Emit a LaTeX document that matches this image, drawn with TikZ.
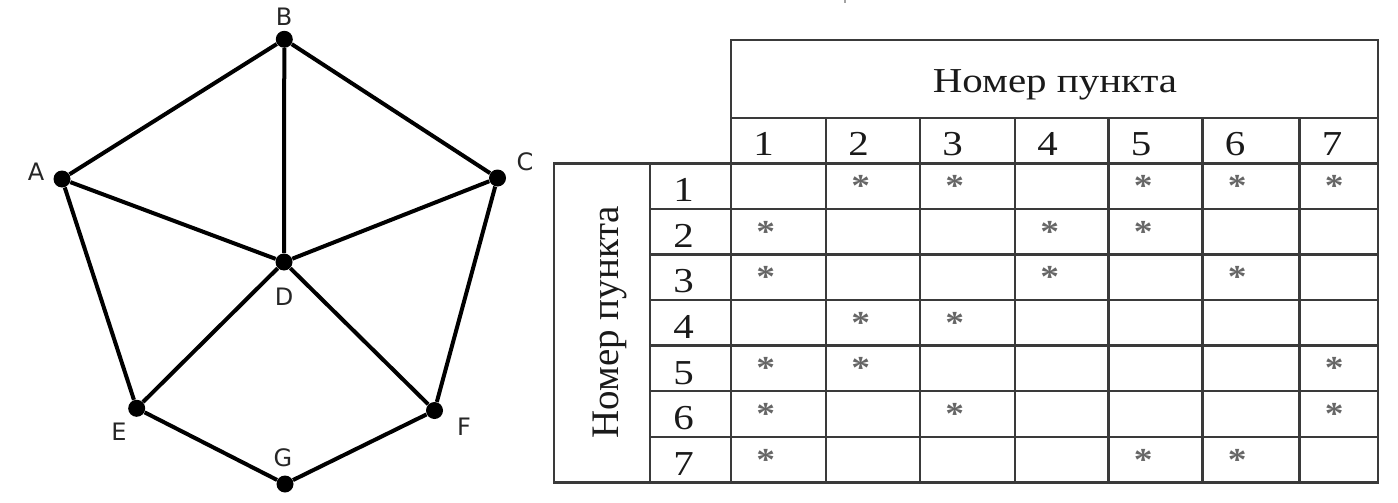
\documentclass[tikz,border=0pt]{standalone}
\usepackage{fontspec}
\setmainfont{Liberation Serif}
\newfontfamily\tabfont{Liberation Serif}[FakeStretch=1.17]
\newfontfamily\lblfont{DejaVu Sans}
\definecolor{gridc}{HTML}{3A3A3A}
\definecolor{textc}{HTML}{1A1A1A}
\definecolor{starc}{HTML}{666666}
\begin{document}
\begin{tikzpicture}[x=0.5pt,y=-0.5pt,
  vtx/.style={circle,fill=black,inner sep=0pt,minimum size=8.5pt},
  edge/.style={line width=2pt,black},
  lbl/.style={font=\lblfont\fontsize{12}{14}\selectfont,text=black!85,inner sep=0pt},
  gridline/.style={line width=1.2pt,draw=gridc,line cap=rect},
  cell/.style={font=\tabfont\fontsize{17.5}{20}\selectfont,anchor=base west,inner sep=0pt,text=textc},
  star/.style={font=\tabfont\bfseries\fontsize{16}{18}\selectfont,anchor=base west,inner sep=0pt,text=starc}]
\useasboundingbox (0,0) rectangle (1398,503);
% ---------- graph ----------
\node[vtx] (A) at (62,179) {};
\node[vtx] (B) at (284.3,39.3) {};
\node[vtx] (C) at (497.5,178) {};
\node[vtx] (D) at (284,262) {};
\node[vtx] (E) at (136.7,408.3) {};
\node[vtx] (F) at (434.5,410.5) {};
\node[vtx] (G) at (285,484) {};
\foreach \u/\v in {A/B,B/C,B/D,A/D,C/D,A/E,C/F,D/E,D/F,E/G,F/G}
  \draw[edge] (\u) -- (\v);
\node[lbl] (lA) at (36,172) {A};
\node[lbl] (lB) at (284,17) {B};
\node[lbl] (lC) at (525,162) {C};
\node[lbl] (lD) at (284,297) {D};
\node[lbl] (lE) at (119,432) {E};
\node[lbl] (lF) at (464,427) {F};
\node[lbl] (lG) at (283,458) {G};
% tiny mark at top edge
\draw[starc!60,line width=1pt] (845,0) -- (845,3);
% ---------- table ----------
\def\xL{554}\def\xR{650}\def\xH{731}\def\xE{1377.7}
\def\yT{40}\def\yH{117.7}\def\yN{163.3}\def\yB{482.3}
\draw[gridline] (\xH,\yT) -- (\xE,\yT);
\draw[gridline] (\xH,\yH) -- (\xE,\yH);
\draw[gridline] (\xL,\yN) -- (\xE,\yN);
\draw[gridline] (\xL,\yB) -- (\xE,\yB);
\foreach \i in {1,...,6}
  \draw[gridline] (\xR,\yN+\i*45.571) -- (\xE,\yN+\i*45.571);
\draw[gridline] (\xL,\yN) -- (\xL,\yB);
\draw[gridline] (\xR,\yN) -- (\xR,\yB);
\draw[gridline] (\xH,\yT) -- (\xH,\yB);
\draw[gridline] (\xE,\yT) -- (\xE,\yB);
\foreach \x in {826,920,1015,1108.5,1202.5,1299.5}
  \draw[gridline] (\x,\yH) -- (\x,\yB);
% header texts
\node[cell,anchor=base] (hdr) at (1055,92) {Номер пункта};
\node[font=\fontsize{19.5}{22}\selectfont,text=textc,inner sep=0pt,rotate=90,anchor=base] (vhdr) at (618,322) {Номер пункта};
% column numbers
\foreach \c/\x in {1/731,2/826,3/920,4/1015,5/1108.5,6/1202.5,7/1299.5}
  \node[cell] (cn\c) at (\x+22,155.3) {\c};
% row numbers
\foreach \r in {1,...,7}
  \node[cell] (rn\r) at (\xR+23,\yN+\r*45.571-45.571+38.5) {\r};
% asterisks
\foreach \r/\cols in {1/{2,3,5,6,7},2/{1,4,5},3/{1,4,6},4/{2,3},5/{1,2,7},6/{1,3,7},7/{1,5,6}}
  \foreach \c in \cols {
    \pgfmathsetmacro\cx{{731,826,920,1015,1108.5,1202.5,1299.5}[\c-1]+25}
    \node[star] (s\r\c) at (\cx,\yN+\r*45.571-45.571+33.3) {*};
  }
\end{tikzpicture}
\end{document}
